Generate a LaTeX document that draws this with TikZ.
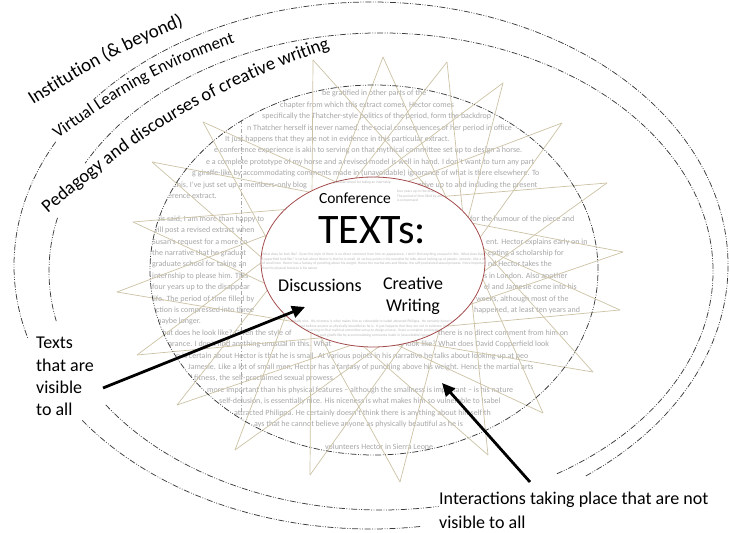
\documentclass[tikz,border=0pt]{standalone}
\usepackage{fontspec}
\setmainfont{Carlito}
\usetikzlibrary{arrows.meta,decorations.text}
\definecolor{ringink}{HTML}{3C3C3C}
\definecolor{spiketan}{HTML}{CBC2A4}
\definecolor{bubblered}{HTML}{A44C4C}
\definecolor{pagegrey}{HTML}{A6A6A6}

\begin{document}
\begin{tikzpicture}[
  x=1pt,
  y=1pt,
  ring/.style={ringink, line width=0.75pt,
    dash pattern=on 6pt off 1.6pt on 0.8pt off 1.6pt on 0.8pt off 1.6pt},
  spike/.style={spiketan, line width=0.7pt},
  pageline/.style={pagegrey, anchor=base west, inner sep=0pt,
    font=\fontsize{8}{9.6}\selectfont},
  tinypage/.style={pagegrey!80, anchor=north west, inner sep=0pt, align=justify,
    font=\fontsize{3.6}{4.6}\selectfont},
  bubbleword/.style={fill=white, inner sep=1pt},
  sidenote/.style={align=left, inner sep=0pt, font=\fontsize{18}{22.3}\selectfont},
  pointer/.style={line width=2.8pt, -{Triangle[length=13pt,width=12pt]}}
]
  \useasboundingbox (0,0) rectangle (729,533);

  % the page of writing, seen through the inner ring
  \begin{scope}
    \clip (374,263) ellipse [x radius=224, y radius=185];
    \draw[pagegrey, line width=0.6pt, dash pattern=on 4pt off 2pt on 1pt off 2pt]
      (241,440) -- (241,80);
    \foreach \k/\x/\txt in {
      0/322/{be gratified in other parts of the},
      1/280/{chapter from which this extract comes. Hector comes},
      2/262/{specifically the Thatcher-style politics of the period, form the backdrop},
      3/247/{n Thatcher herself is never named, the social consequences of her period in office},
      4/225/{It just happens that they are not in evidence in this particular extract.},
      5/214/{e conference experience is akin to serving on that mythical committee set up to design a horse.},
      6/206/{e a complete prototype of my horse and a revised model is well in hand. I don't want to turn any part},
      7/192/{g giraffe-like by accommodating comments made in (unavoidable) ignorance of what is there elsewhere. To},
      8/174/{this, I've just set up a members-only blog},
      8/418/{ative up to and including the present},
      9/154/{conference extract.},
      11/152/{This said, I am more than happy to},
      11/470/{for the humour of the piece and},
      12/152/{will post a revised extract when},
      13/152/{Susan's request for a more co},
      13/486/{ent. Hector explains early on in},
      14/152/{the narrative that he graduat},
      14/488/{epting a scholarship for},
      15/152/{graduate school for taking an},
      15/488/{nd Hector takes the},
      16/152/{internship to please him. This},
      16/484/{s in London. Also another},
      17/152/{four years up to the disappear},
      17/484/{el and Jamesie come into his},
      18/152/{life. The period of time filled by},
      18/476/{weeks, although most of the},
      19/152/{action is compressed into three},
      19/474/{happened, at least ten years and},
      20/155/{maybe longer.},
      21/155/{What does he look like? Given the style of},
      21/438/{there is no direct comment from him on},
      22/152/{appearance. I don't find anything unusual in this. What},
      22/400/{y look like? What does David Copperfield look},
      23/176/{n is certain about Hector is that he is small. At various points in his narrative he talks about looking up at peo},
      24/188/{Jamesie. Like a lot of small men, Hector has a fantasy of punching above his weight. Hence the martial arts},
      25/188/{d fitness, the self-proclaimed sexual prowess.},
      26/207/{more important than his physical features -- although the smallness is important -- is his nature},
      27/219/{self-delusion, is essentially nice. His niceness is what makes him so vulnerable to Isabel},
      28/234/{attracted Philippa. He certainly doesn't think there is anything about himself th},
      29/254/{ays that he cannot believe anyone as physically beautiful as he is},
      31/325/{volunteers Hector in Sierra Leone}
    }
      \node[pageline] at ({\x},{437-11.4*\k}) {\txt};
  \end{scope}

  % the burst of interactions
  \foreach \px/\py [count=\i] in {152/371,203/411,313/473,383/476,447/471,
      503/450,562/410,607/350,623/281,620/223,593/161,543/120,
      488/78,400/51,310/58,235/83,177/128,137/178,117/241,133/311}
    \coordinate (t\i) at (\px,\py);
  \foreach \i in {1,...,20} {
    \pgfmathtruncatemacro\j{mod(\i+7,20)+1}
    \draw[spike] (t\i) -- (t\j);
  }

  % the texts bubble
  \fill[white] (373,271) ellipse [x radius=112, y radius=85];
  \begin{scope}
    \clip (373,271) ellipse [x radius=112, y radius=85];
    \node[tinypage, text width=224pt] (tinytop) at (262,357)
      {This said, I am more than happy to for the humour of the piece and will post a revised
       extract when Hector explains early on in Susan's request for a more accepting a
       scholarship for the narrative that he graduate school for taking an internship};
    \node[tinypage, text width=88pt] (tinyside) at (397,343)
      {four years up to the disappear in London. Also another life. The period of time filled
       by and Jamesie come into his action is compressed};
    \node[tinypage, text width=224pt] (tinymid) at (262,280)
      {What does he look like? Given the style of there is no direct comment from him on
       appearance. I don't find anything unusual in this. What does David Copperfield look
       like? is certain about Hector is that he is small. At various points in his narrative he
       talks about looking up at people. Jamesie. Like a lot of small men, Hector has a fantasy of
       punching above his weight. Hence the martial arts and fitness, the self-proclaimed sexual
       prowess. More important than his physical features is his nature};
    \node[tinypage, text width=224pt] (tinylow) at (262,213)
      {self-delusion, is essentially nice. His niceness is what makes him so vulnerable to Isabel
       attracted Philippa. He certainly doesn't think there is anything about himself that he
       cannot believe anyone as physically beautiful as he is. It just happens that they are not
       in evidence in this particular extract. The conference experience is akin to serving on
       that mythical committee set up to design a horse. I have a complete prototype of my horse
       and a revised model is well in hand. I don't want to turn any part giraffe-like by
       accommodating comments made in (unavoidable) ignorance of what is there elsewhere.};
  \end{scope}
  \draw[bubblered, line width=0.8pt] (373,271) ellipse [x radius=112, y radius=85];

  \node[bubbleword, font=\fontsize{15.5}{18}\selectfont] (conference) at (355,335) {Conference};
  \node[bubbleword, font=\fontsize{42}{46}\selectfont] (texts) at (372,303) {TEXTs:};
  \node[bubbleword, font=\fontsize{18}{22}\selectfont] (discussions) at (320,248) {Discussions};
  \node[bubbleword, align=center, font=\fontsize{18}{22}\selectfont] (creative) at (413,237)
    {Creative\\Writing};

  % rings
  \foreach \a/\b in {-53/141,152/196,216/278}
    \draw[ring] (371,267.5) ++(\a:357 and 263.5)
      arc[start angle=\a, end angle=\b, x radius=357, y radius=263.5];
  \foreach \a/\b in {-58/153,167/192,214/280}
    \draw[ring] (381,261.5) ++(\a:332 and 238.5)
      arc[start angle=\a, end angle=\b, x radius=332, y radius=238.5];
  \draw[ring] (374,263) ellipse [x radius=224, y radius=185];

  \path[decorate, decoration={text along path, text align=left,
      text={|\fontsize{19}{19}\selectfont|Institution ({\&} beyond)}}]
    (33,428) to[bend left=6] (215,520);
  \path[decorate, decoration={text along path, text align=left,
      text={|\fontsize{17}{17}\selectfont|Virtual Learning Environment}}]
    (58,394) to[bend left=9] (262,500);
  \path[decorate, decoration={text along path, text align=left,
      text={|\fontsize{18.5}{18.5}\selectfont|Pedagogy and discourses of creative writing}}]
    (48,319) to[bend left=11] (345,490);

  % who can see what
  \node[sidenote, anchor=west] (seen) at (36,156.5) {Texts\\that are\\visible\\to all};
  \node[sidenote, anchor=west, font=\fontsize{18}{24}\selectfont] (unseen) at (439,23)
    {Interactions taking place that are not\\visible to all};

  \coordinate (seentail) at (103,145);
  \coordinate (seentip) at (305,226);
  \coordinate (unseentail) at (530,51);
  \coordinate (unseentip) at (442,150);
  \draw[pointer] (seentail) -- (seentip);
  \draw[pointer] (unseentail) -- (unseentip);
\end{tikzpicture}
\end{document}
